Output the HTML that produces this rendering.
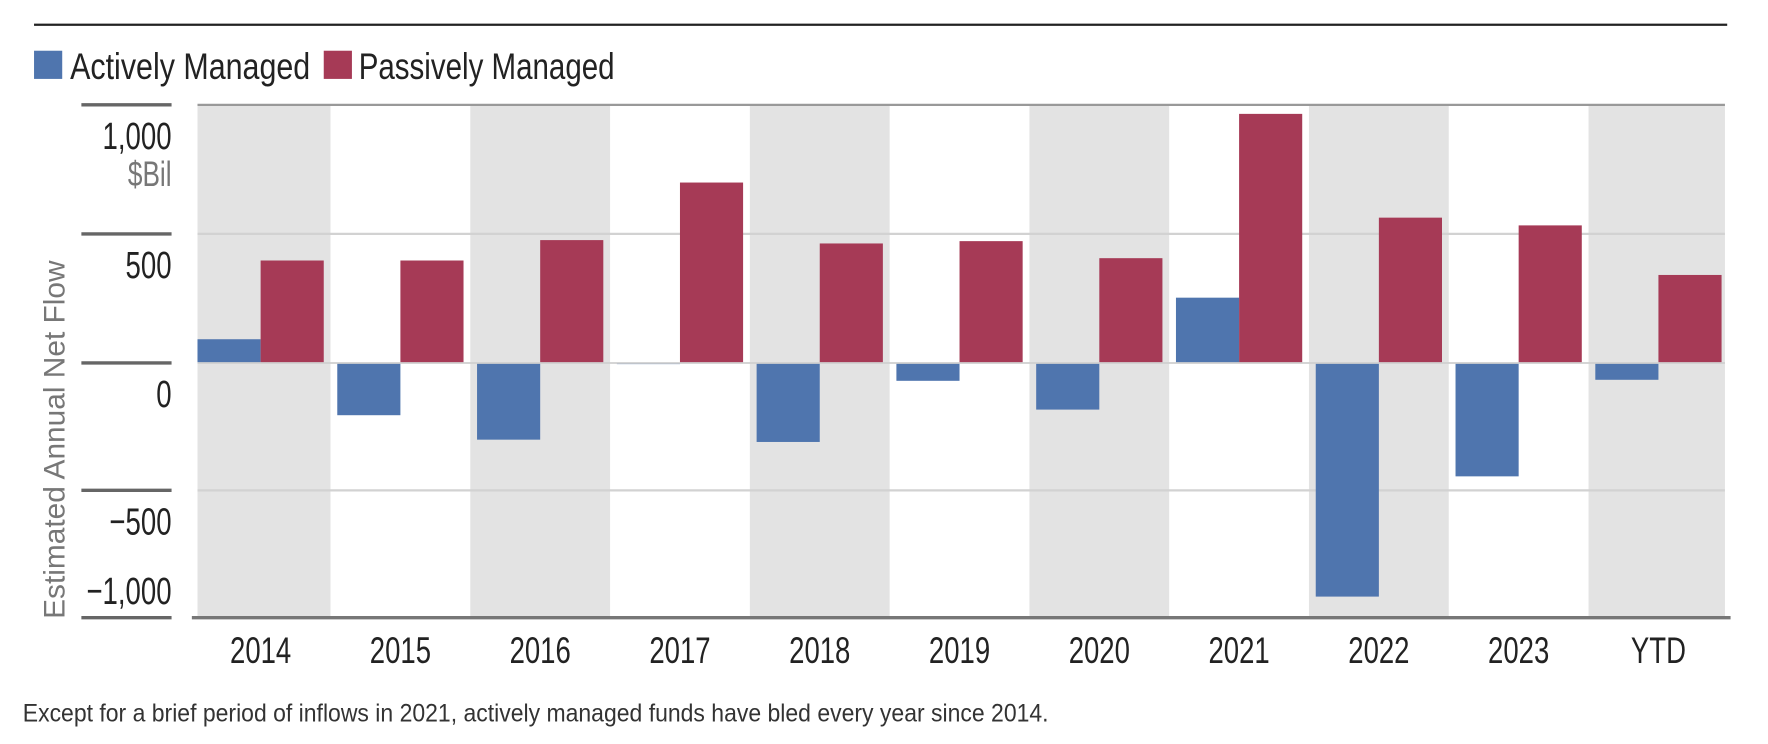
<!DOCTYPE html>
<html><head><meta charset="utf-8">
<style>
html,body{margin:0;padding:0;background:#fff;}
svg{display:block;}
text{font-family:"Liberation Sans Narrow","Liberation Sans",sans-serif;}
</style></head>
<body>
<svg id="chart" width="1768" height="744" viewBox="0 0 1568 660" xmlns="http://www.w3.org/2000/svg">
  <line x1="30" y1="22" x2="1532" y2="22" stroke="#222" stroke-width="2"/>
  <g>
    <rect x="30" y="45" width="25" height="25" fill="#4f75ae"/>
    <text x="62" y="70" font-size="33" fill="#222" textLength="213" lengthAdjust="spacingAndGlyphs">Actively Managed</text>
    <rect x="287" y="45" width="25" height="25" fill="#a63a56"/>
    <text x="318" y="70" font-size="33" fill="#222" textLength="227" lengthAdjust="spacingAndGlyphs">Passively Managed</text>
  </g>
  <g id="bands"></g>
  <g id="grid"></g>
  <g id="bars"></g>
  <g id="axes"></g>
  <text transform="translate(57,390) rotate(-90)" text-anchor="middle" style="font-family:'Liberation Sans',sans-serif" font-size="26" fill="#777" textLength="318" lengthAdjust="spacingAndGlyphs">Estimated Annual Net Flow</text>
  <text transform="translate(152,165) scale(0.75,1)" text-anchor="end" font-size="31" fill="#777">$Bil</text>
  <text x="20" y="640" font-size="22" fill="#333" textLength="910" lengthAdjust="spacingAndGlyphs">Except for a brief period of inflows in 2021, actively managed funds have bled every year since 2014.</text>
</svg>
<script>
const categories = ["2014","2015","2016","2017","2018","2019","2020","2021","2022","2023","YTD"];
const activeValues = [92,-205,-301,-3,-310,-70,-183,253,-917,-445,-66];
const passiveValues = [397,397,476,699,463,472,406,965,563,533,341];
const yTicks = [1000,500,0,-500,-1000];
const yTickLabels = ["1,000","500","0","\u2212500","\u22121,000"];

const NS="http://www.w3.org/2000/svg";
const plotL=175, plotR=1530, plotT=93, plotB=548;
const yMin=-1000, yMax=1000;
const zeroY=322;
function y(v){ return v>=0 ? zeroY-(v/yMax)*(zeroY-plotT) : zeroY+(v/yMin)*(plotB-zeroY); }
const step=124, firstCenter=231;
function xc(i){ return firstCenter+i*step; }
function mk(tag,attrs,parent){const e=document.createElementNS(NS,tag);for(const k in attrs)e.setAttribute(k,attrs[k]);parent.appendChild(e);return e;}

const bands=document.getElementById('bands'), grid=document.getElementById('grid'), bars=document.getElementById('bars'), axes=document.getElementById('axes');
categories.forEach((c,i)=>{
  if(i%2===0){
    const x0=Math.max(plotL,xc(i)-step/2), x1=Math.min(plotR,xc(i)+step/2);
    const r=mk('rect',{x:x0,y:plotT,width:x1-x0,height:plotB-plotT,fill:'#e3e3e3'},bands);
    
    
  }
});
yTicks.forEach((t,i)=>{
  const yy=y(t);
  if(t!==0 && t!==yMin){
    const g=mk('line',{x1:plotL,y1:yy,x2:plotR,y2:yy,stroke:t===yMax?'#999':'#d2d2d2','stroke-width':2},grid);
    
    
  }
  const tk=mk('line',{x1:72,y1:yy,x2:152,y2:yy,stroke:'#666','stroke-width':3},axes);
  
  
  const ly = t===yMin ? yy-12 : yy+39;
  const lb=mk('text',{transform:'translate(152,'+ly+') scale(0.72,1)','text-anchor':'end','font-size':34,fill:'#222'},axes);
  lb.textContent=yTickLabels[i];
  
  
});
const bw=56;
categories.forEach((c,i)=>{
  const a=activeValues[i], p=passiveValues[i];
  const ra=mk('rect',{x:xc(i)-bw,y:Math.min(y(a),zeroY),width:bw,height:Math.max(1,Math.abs(y(a)-zeroY)),fill:'#4f75ae'},bars);
  
  
  const rp=mk('rect',{x:xc(i),y:Math.min(y(p),zeroY),width:bw,height:Math.max(1,Math.abs(y(p)-zeroY)),fill:'#a63a56'},bars);
  
  
  const t=mk('text',{transform:'translate('+xc(i)+',588) scale(0.74,1)','text-anchor':'middle','font-size':33,fill:'#222'},axes);
  t.textContent=c;
  
  
});
const zl=mk('line',{x1:plotL,y1:zeroY,x2:plotR,y2:zeroY,stroke:'#cfcfcf','stroke-width':1.5},axes);


const xa=mk('line',{x1:plotL-5,y1:plotB,x2:plotR+5,y2:plotB,stroke:'#777','stroke-width':3},axes);


</script>
</body></html>
